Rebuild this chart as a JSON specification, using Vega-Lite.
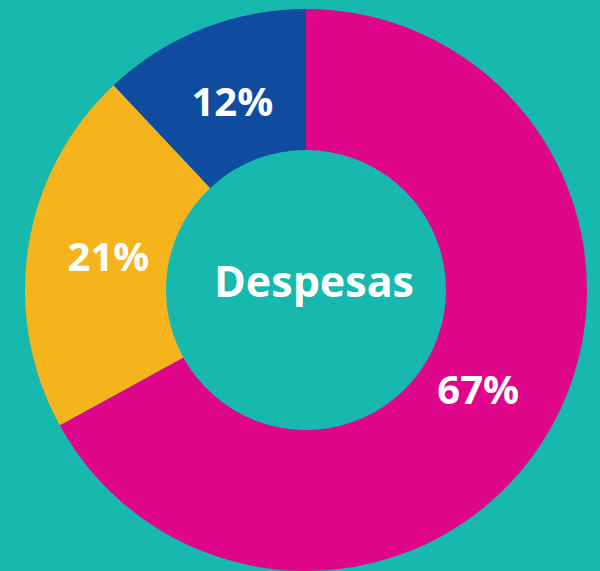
{
  "$schema": "https://vega.github.io/schema/vega-lite/v6.json",
  "width": 588,
  "height": 560,
  "autosize": {"type": "none"},
  "padding": {"left": 12, "top": 10, "right": 0, "bottom": 1},
  "background": "#17b8ad",
  "config": {"view": {"stroke": null}},
  "layer": [
    {
      "data": {"values": [
        {"categoria": "A", "valor": 67, "ordem": 1, "rotulo": "67%"},
        {"categoria": "B", "valor": 21, "ordem": 2, "rotulo": "21%"},
        {"categoria": "C", "valor": 12, "ordem": 3, "rotulo": "12%"}
      ]},
      "layer": [
        {
          "mark": {"type": "arc", "outerRadius": 281, "innerRadius": 140},
          "encoding": {
            "theta": {"field": "valor", "type": "quantitative", "stack": true},
            "order": {"field": "ordem", "type": "quantitative"},
            "color": {"field": "categoria", "type": "nominal", "legend": null,
              "scale": {"domain": ["A", "B", "C"], "range": ["#e0068c", "#f6b41c", "#0f4c9f"]}}
          }
        },
        {
          "mark": {"type": "text", "radius": 200, "font": "Open Sans", "fontWeight": "bold", "fontSize": 40, "fill": "white", "align": "center", "baseline": "middle"},
          "encoding": {
            "theta": {"field": "valor", "type": "quantitative", "stack": true},
            "order": {"field": "ordem", "type": "quantitative"},
            "text": {"field": "rotulo"}
          }
        }
      ]
    },
    {
      "data": {"values": [{"titulo": "Despesas"}]},
      "mark": {"type": "text", "font": "Open Sans", "fontWeight": "bold", "fontSize": 43, "fill": "white", "align": "center", "baseline": "middle", "dx": 8, "dy": -6},
      "encoding": {"text": {"field": "titulo"}}
    }
  ]
}
